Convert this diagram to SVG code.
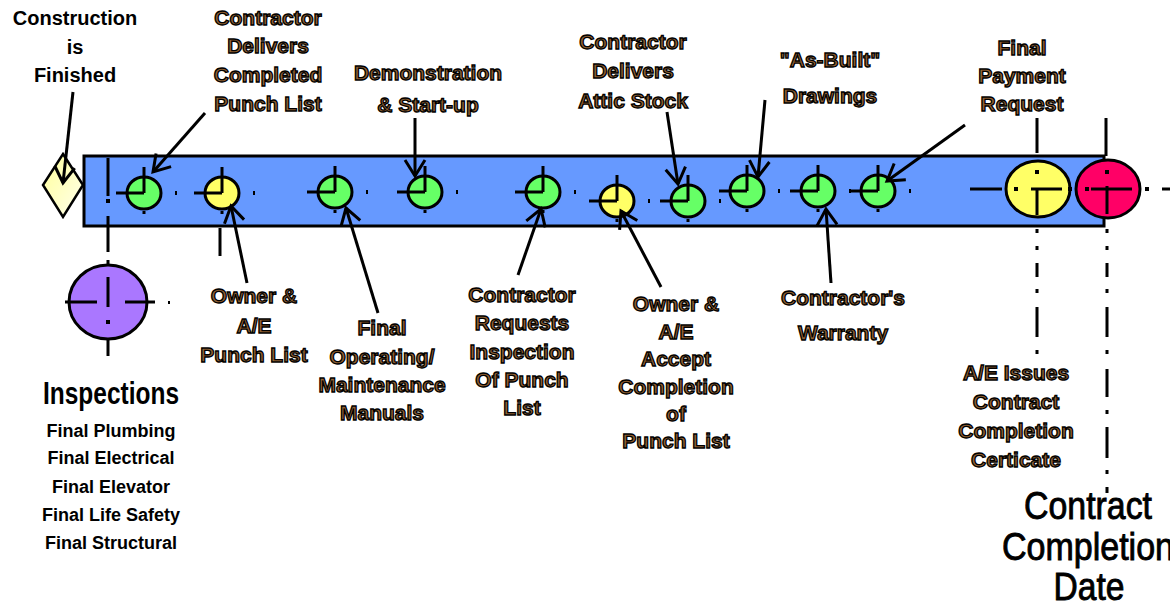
<svg xmlns="http://www.w3.org/2000/svg" width="1170" height="605" viewBox="0 0 1170 605">
<defs>
<linearGradient id="dg" x1="0" y1="0" x2="1" y2="1"><stop offset="0" stop-color="#ffff99"/><stop offset="1" stop-color="#ffffee"/></linearGradient>
<marker id="ah" viewBox="0 0 20 20" refX="18" refY="10" markerWidth="20" markerHeight="20" markerUnits="userSpaceOnUse" orient="auto" overflow="visible"><path d="M2,0 L18,10 L2,20" fill="none" stroke="#000" stroke-width="3"/></marker>
<style>
.lb{font-family:"Liberation Sans",Arial,sans-serif;font-weight:bold;font-size:21px;fill:#946232;stroke:#000;stroke-width:1.3px;text-anchor:middle}
.bk{font-family:"Liberation Sans",Arial,sans-serif;font-weight:bold;font-size:20px;fill:#000;text-anchor:middle}
.insh{font-family:"Liberation Sans",Arial,sans-serif;font-weight:bold;font-size:32px;fill:#000;text-anchor:middle}
.ins{font-family:"Liberation Sans",Arial,sans-serif;font-weight:bold;font-size:18px;fill:#000;text-anchor:middle}
.big{font-family:"Liberation Sans",Arial,sans-serif;font-size:39px;fill:#000;stroke:#000;stroke-width:0.9px;text-anchor:middle}
.cx{stroke:#000;stroke-width:3;fill:none}
.g{fill:#66ff66;stroke:#000;stroke-width:3}
.y{fill:#ffff66;stroke:#000;stroke-width:3}
.conn{stroke:#000;stroke-width:3;fill:none;marker-end:url(#ah)}
</style>
<g id="tgt">
<line class="cx" x1="-28" y1="0" x2="0" y2="0"/>
<line class="cx" x1="0" y1="-26" x2="0" y2="0"/>
<rect x="31" y="-2" width="2" height="4" fill="#000"/>
<rect x="-1.5" y="18" width="3" height="3" fill="#000"/>
</g>
</defs>

<g id="bar">
<rect x="84" y="156" width="1020" height="70" fill="#6699ff" stroke="#000" stroke-width="3"/>
</g>

<g id="diamond">
<polygon points="63,154 83,185 63,217 43,185" fill="url(#dg)" stroke="#000" stroke-width="2.5"/>
</g>

<g id="guides" stroke="#000" stroke-width="3" fill="none">
<path d="M108,158 V196 M108,216 V252 M108,340 V356"/>
<rect x="106" y="199" width="4" height="4" fill="#000" stroke="none"/>
<path d="M220,228 V256"/>
<path d="M1037,118 V153 M1106,118 V156"/>
<path d="M1037,229 V233 M1037,246 V250 M1037,263 V277 M1037,289 V293 M1037,307 V337 M1037,350 V354"/>
<path d="M1107,229 V233 M1107,246 V250 M1107,263 V277 M1107,289 V293 M1107,307 V337 M1107,350 V354 M1107,369 V397 M1107,410 V414 M1107,427 V458 M1107,470 V474 M1107,487 V493"/>
</g>

<g id="inspections-target">
<ellipse cx="108" cy="302" rx="39" ry="37" fill="#aa77ff" stroke="#000" stroke-width="3"/>
<g stroke="#000" stroke-width="3">
<path d="M65,302 H97 M125,302 H155 M108,277 V307 M108,260 V265"/>
</g>
<rect x="106" y="320" width="4" height="4" fill="#000"/>
<rect x="168" y="301" width="2" height="3" fill="#000"/>
</g>

<g id="t1"><ellipse class="g" cx="144" cy="193" rx="17" ry="16"/><use href="#tgt" x="144" y="193"/></g>
<g id="t2"><ellipse class="y" cx="222" cy="193" rx="17" ry="16"/><use href="#tgt" x="222" y="193"/></g>
<g id="t3"><ellipse class="g" cx="335" cy="192" rx="17" ry="16"/><use href="#tgt" x="335" y="192"/></g>
<g id="t4"><ellipse class="g" cx="425" cy="192" rx="17" ry="16"/><use href="#tgt" x="425" y="192"/></g>
<g id="t5"><ellipse class="g" cx="543" cy="192" rx="17" ry="16"/><use href="#tgt" x="543" y="192"/></g>
<g id="t6"><ellipse class="y" cx="617" cy="201" rx="17" ry="16"/><use href="#tgt" x="617" y="201"/></g>
<g id="t7"><ellipse class="g" cx="688" cy="201" rx="17" ry="16"/><use href="#tgt" x="688" y="201"/></g>
<g id="t8"><ellipse class="g" cx="747" cy="191" rx="17" ry="16"/><use href="#tgt" x="747" y="191"/></g>
<g id="t9"><ellipse class="g" cx="818" cy="191" rx="17" ry="16"/><use href="#tgt" x="818" y="191"/></g>
<g id="t10"><ellipse class="g" cx="878" cy="191" rx="17" ry="16"/><use href="#tgt" x="878" y="191"/></g>

<g id="final-yellow">
<ellipse cx="1038" cy="189" rx="32" ry="28" fill="#ffff66" stroke="#000" stroke-width="3"/>
<path d="M970,189 H1002 M1031,189 H1062 M1037,189 V215" stroke="#000" stroke-width="3"/>
<rect x="1014" y="187" width="4" height="4" fill="#000"/>
<rect x="1035" y="170" width="4" height="4" fill="#000"/>
<rect x="1068" y="187" width="4" height="4" fill="#000"/>
</g>
<g id="final-red">
<ellipse cx="1108" cy="189" rx="32" ry="29" fill="#ff0066" stroke="#000" stroke-width="3"/>
<path d="M1091,189 H1132 M1107,186 V214 M1162,189 H1172" stroke="#000" stroke-width="3"/>
<rect x="1085" y="187" width="4" height="4" fill="#000"/>
<rect x="1105" y="170" width="4" height="4" fill="#000"/>
<rect x="1145" y="187" width="4" height="4" fill="#000"/>
</g>

<g id="connectors">
<line class="conn" x1="73" y1="92" x2="63" y2="183"/>
<line class="conn" x1="205" y1="113" x2="153" y2="172"/>
<line class="conn" x1="247" y1="283" x2="231" y2="206"/>
<line class="conn" x1="415" y1="118" x2="415" y2="176"/>
<line class="conn" x1="378" y1="313" x2="346" y2="208"/>
<line class="conn" x1="518" y1="275" x2="541" y2="209"/>
<line class="conn" x1="661" y1="287" x2="621" y2="211"/>
<line class="conn" x1="667" y1="112" x2="678" y2="184"/>
<line class="conn" x1="765" y1="100" x2="758" y2="177"/>
<line class="conn" x1="831" y1="283" x2="826" y2="209"/>
<line class="conn" x1="965" y1="125" x2="887" y2="181"/>
</g>

<g id="labels">
<text class="bk"><tspan x="75" y="25">Construction</tspan><tspan x="75" y="54">is</tspan><tspan x="75" y="82">Finished</tspan></text>
<text class="lb"><tspan x="268" y="25">Contractor</tspan><tspan x="268" y="53">Delivers</tspan><tspan x="268" y="82">Completed</tspan><tspan x="268" y="111">Punch List</tspan></text>
<text class="lb"><tspan x="428" y="80">Demonstration</tspan><tspan x="428" y="112">&amp; Start-up</tspan></text>
<text class="lb"><tspan x="633" y="49">Contractor</tspan><tspan x="633" y="78">Delivers</tspan><tspan x="633" y="108">Attic Stock</tspan></text>
<text class="lb"><tspan x="830" y="67">"As-Built"</tspan><tspan x="830" y="103">Drawings</tspan></text>
<text class="lb"><tspan x="1022" y="55">Final</tspan><tspan x="1022" y="83">Payment</tspan><tspan x="1022" y="111">Request</tspan></text>
<text class="lb"><tspan x="254" y="303">Owner &amp;</tspan><tspan x="254" y="333">A/E</tspan><tspan x="254" y="362">Punch List</tspan></text>
<text class="lb"><tspan x="382" y="335">Final</tspan><tspan x="382" y="364">Operating/</tspan><tspan x="382" y="392">Maintenance</tspan><tspan x="382" y="420">Manuals</tspan></text>
<text class="lb"><tspan x="522" y="302">Contractor</tspan><tspan x="522" y="330">Requests</tspan><tspan x="522" y="359">Inspection</tspan><tspan x="522" y="387">Of Punch</tspan><tspan x="522" y="415">List</tspan></text>
<text class="lb"><tspan x="676" y="311">Owner &amp;</tspan><tspan x="676" y="339">A/E</tspan><tspan x="676" y="366">Accept</tspan><tspan x="676" y="394">Completion</tspan><tspan x="676" y="421">of</tspan><tspan x="676" y="448">Punch List</tspan></text>
<text class="lb"><tspan x="843" y="305">Contractor's</tspan><tspan x="843" y="340">Warranty</tspan></text>
<text class="lb"><tspan x="1016" y="380">A/E Issues</tspan><tspan x="1016" y="409">Contract</tspan><tspan x="1016" y="438">Completion</tspan><tspan x="1016" y="467">Certicate</tspan></text>
<text class="insh" x="111" y="404" textLength="136" lengthAdjust="spacingAndGlyphs">Inspections</text>
<text class="ins"><tspan x="111" y="437">Final Plumbing</tspan><tspan x="111" y="464">Final Electrical</tspan><tspan x="111" y="493">Final Elevator</tspan><tspan x="111" y="521">Final Life Safety</tspan><tspan x="111" y="549">Final Structural</tspan></text>
<text class="big" x="1088" y="519" textLength="128" lengthAdjust="spacingAndGlyphs">Contract</text>
<text class="big" x="1088" y="560" textLength="172" lengthAdjust="spacingAndGlyphs">Completion</text>
<text class="big" x="1089" y="600" textLength="71" lengthAdjust="spacingAndGlyphs">Date</text>
</g>
</svg>
